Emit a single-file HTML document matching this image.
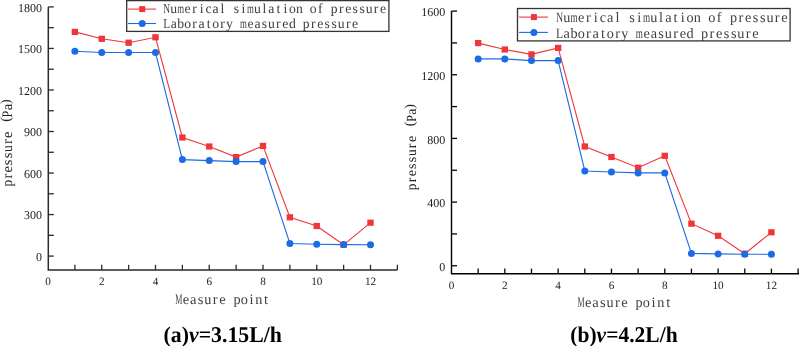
<!DOCTYPE html>
<html><head><meta charset="utf-8"><style>
html,body{margin:0;padding:0;background:#fff;}
body{width:799px;height:346px;overflow:hidden;}
svg{display:block;will-change:transform;}
text{font-family:"Liberation Serif",serif;text-rendering:geometricPrecision;}
.tk{fill:#222;}
.cap{font-weight:bold;font-size:22.5px;fill:#000;}
.it{font-style:italic;font-weight:bold;}
</style></head><body>
<svg width="799" height="346" viewBox="0 0 799 346">
<rect width="799" height="346" fill="#fff"/>
<path d="M48.3 6.9V270.0H397.38" fill="none" stroke="#2a2a2a" stroke-width="1.5"/>
<path d="M48.3 256.10h5.5" stroke="#2a2a2a" stroke-width="1.3"/>
<path d="M48.3 214.57h5.5" stroke="#2a2a2a" stroke-width="1.3"/>
<path d="M48.3 173.04h5.5" stroke="#2a2a2a" stroke-width="1.3"/>
<path d="M48.3 131.50h5.5" stroke="#2a2a2a" stroke-width="1.3"/>
<path d="M48.3 89.97h5.5" stroke="#2a2a2a" stroke-width="1.3"/>
<path d="M48.3 48.44h5.5" stroke="#2a2a2a" stroke-width="1.3"/>
<path d="M48.3 6.91h5.5" stroke="#2a2a2a" stroke-width="1.3"/>
<path d="M48.3 235.33h5.5" stroke="#2a2a2a" stroke-width="1.3"/>
<path d="M48.3 193.80h5.5" stroke="#2a2a2a" stroke-width="1.3"/>
<path d="M48.3 152.27h5.5" stroke="#2a2a2a" stroke-width="1.3"/>
<path d="M48.3 110.74h5.5" stroke="#2a2a2a" stroke-width="1.3"/>
<path d="M48.3 69.21h5.5" stroke="#2a2a2a" stroke-width="1.3"/>
<path d="M48.3 27.67h5.5" stroke="#2a2a2a" stroke-width="1.3"/>
<path d="M74.88 270.0v-5.2" stroke="#2a2a2a" stroke-width="1.3"/>
<path d="M101.75 270.0v-5.2" stroke="#2a2a2a" stroke-width="1.3"/>
<path d="M128.62 270.0v-5.2" stroke="#2a2a2a" stroke-width="1.3"/>
<path d="M155.50 270.0v-5.2" stroke="#2a2a2a" stroke-width="1.3"/>
<path d="M182.38 270.0v-5.2" stroke="#2a2a2a" stroke-width="1.3"/>
<path d="M209.25 270.0v-5.2" stroke="#2a2a2a" stroke-width="1.3"/>
<path d="M236.12 270.0v-5.2" stroke="#2a2a2a" stroke-width="1.3"/>
<path d="M263.00 270.0v-5.2" stroke="#2a2a2a" stroke-width="1.3"/>
<path d="M289.88 270.0v-5.2" stroke="#2a2a2a" stroke-width="1.3"/>
<path d="M316.75 270.0v-5.2" stroke="#2a2a2a" stroke-width="1.3"/>
<path d="M343.62 270.0v-5.2" stroke="#2a2a2a" stroke-width="1.3"/>
<path d="M370.50 270.0v-5.2" stroke="#2a2a2a" stroke-width="1.3"/>
<path d="M397.38 270.0v-5.2" stroke="#2a2a2a" stroke-width="1.3"/>
<text x="42.0" y="260.70" text-anchor="end" class="tk" style="font-size:12px">0</text>
<text x="42.0" y="219.17" text-anchor="end" class="tk" style="font-size:12px">300</text>
<text x="42.0" y="177.64" text-anchor="end" class="tk" style="font-size:12px">600</text>
<text x="42.0" y="136.10" text-anchor="end" class="tk" style="font-size:12px">900</text>
<text x="42.0" y="94.57" text-anchor="end" class="tk" style="font-size:12px">1200</text>
<text x="42.0" y="53.04" text-anchor="end" class="tk" style="font-size:12px">1500</text>
<text x="42.0" y="11.51" text-anchor="end" class="tk" style="font-size:12px">1800</text>
<text x="48.00" y="285.0" text-anchor="middle" class="tk" style="font-size:11.2px">0</text>
<text x="101.75" y="285.0" text-anchor="middle" class="tk" style="font-size:11.2px">2</text>
<text x="155.50" y="285.0" text-anchor="middle" class="tk" style="font-size:11.2px">4</text>
<text x="209.25" y="285.0" text-anchor="middle" class="tk" style="font-size:11.2px">6</text>
<text x="263.00" y="285.0" text-anchor="middle" class="tk" style="font-size:11.2px">8</text>
<text x="316.75" y="285.0" text-anchor="middle" class="tk" style="font-size:11.2px">10</text>
<text x="370.50" y="285.0" text-anchor="middle" class="tk" style="font-size:11.2px">12</text>
<polyline points="74.88,31.9 101.75,38.8 128.62,42.7 155.5,37.3 182.38,137.5 209.25,146.5 236.12,157.1 263.0,145.9 289.88,217.3 316.75,226.0 343.62,244.8 370.5,222.7" fill="none" stroke="#ef363a" stroke-width="1.1"/>
<rect x="71.68" y="28.80" width="6.4" height="6.2" fill="#ef363a"/>
<rect x="98.55" y="35.70" width="6.4" height="6.2" fill="#ef363a"/>
<rect x="125.42" y="39.60" width="6.4" height="6.2" fill="#ef363a"/>
<rect x="152.30" y="34.20" width="6.4" height="6.2" fill="#ef363a"/>
<rect x="179.18" y="134.40" width="6.4" height="6.2" fill="#ef363a"/>
<rect x="206.05" y="143.40" width="6.4" height="6.2" fill="#ef363a"/>
<rect x="232.92" y="154.00" width="6.4" height="6.2" fill="#ef363a"/>
<rect x="259.80" y="142.80" width="6.4" height="6.2" fill="#ef363a"/>
<rect x="286.68" y="214.20" width="6.4" height="6.2" fill="#ef363a"/>
<rect x="313.55" y="222.90" width="6.4" height="6.2" fill="#ef363a"/>
<rect x="340.42" y="241.70" width="6.4" height="6.2" fill="#ef363a"/>
<rect x="367.30" y="219.60" width="6.4" height="6.2" fill="#ef363a"/>
<polyline points="74.88,51.2 101.75,52.5 128.62,52.5 155.5,52.5 182.38,159.6 209.25,160.6 236.12,161.6 263.0,161.6 289.88,243.5 316.75,244.2 343.62,244.6 370.5,244.8" fill="none" stroke="#1b6be5" stroke-width="1.1"/>
<circle cx="74.88" cy="51.2" r="3.5" fill="#1b6be5"/>
<circle cx="101.75" cy="52.5" r="3.5" fill="#1b6be5"/>
<circle cx="128.62" cy="52.5" r="3.5" fill="#1b6be5"/>
<circle cx="155.5" cy="52.5" r="3.5" fill="#1b6be5"/>
<circle cx="182.38" cy="159.6" r="3.5" fill="#1b6be5"/>
<circle cx="209.25" cy="160.6" r="3.5" fill="#1b6be5"/>
<circle cx="236.12" cy="161.6" r="3.5" fill="#1b6be5"/>
<circle cx="263.0" cy="161.6" r="3.5" fill="#1b6be5"/>
<circle cx="289.88" cy="243.5" r="3.5" fill="#1b6be5"/>
<circle cx="316.75" cy="244.2" r="3.5" fill="#1b6be5"/>
<circle cx="343.62" cy="244.6" r="3.5" fill="#1b6be5"/>
<circle cx="370.5" cy="244.8" r="3.5" fill="#1b6be5"/>
<rect x="126.7" y="0.6" width="262.2" height="30.8" fill="#fff" stroke="#333" stroke-width="1.3"/>
<path d="M128 9.1H156" stroke="#ef363a" stroke-width="1.1"/>
<rect x="139.2" y="6.1" width="6" height="6" fill="#ef363a"/>
<path d="M128 23.5H156" stroke="#1b6be5" stroke-width="1.1"/>
<circle cx="142.2" cy="23.5" r="3.5" fill="#1b6be5"/>
<g class="mn" fill="#404040" transform="translate(163.20 13.30)"><text transform="translate(3.49 0.00) scale(0.691 1)" text-anchor="middle" style="font-size:13.7px">N</text>
<text transform="translate(10.47 0.00) scale(0.999 1)" text-anchor="middle" style="font-size:13.7px">u</text>
<text transform="translate(17.45 0.00) scale(0.642 1)" text-anchor="middle" style="font-size:13.7px">m</text>
<text transform="translate(24.43 0.00)" text-anchor="middle" style="font-size:13.7px">e</text>
<text transform="translate(31.41 0.00)" text-anchor="middle" style="font-size:13.7px">r</text>
<text transform="translate(38.39 0.00)" text-anchor="middle" style="font-size:13.7px">i</text>
<text transform="translate(45.37 0.00)" text-anchor="middle" style="font-size:13.7px">c</text>
<text transform="translate(52.35 0.00)" text-anchor="middle" style="font-size:13.7px">a</text>
<text transform="translate(59.33 0.00)" text-anchor="middle" style="font-size:13.7px">l</text>
<text transform="translate(73.29 0.00)" text-anchor="middle" style="font-size:13.7px">s</text>
<text transform="translate(80.27 0.00)" text-anchor="middle" style="font-size:13.7px">i</text>
<text transform="translate(87.25 0.00) scale(0.642 1)" text-anchor="middle" style="font-size:13.7px">m</text>
<text transform="translate(94.23 0.00) scale(0.999 1)" text-anchor="middle" style="font-size:13.7px">u</text>
<text transform="translate(101.21 0.00)" text-anchor="middle" style="font-size:13.7px">l</text>
<text transform="translate(108.19 0.00)" text-anchor="middle" style="font-size:13.7px">a</text>
<text transform="translate(115.17 0.00)" text-anchor="middle" style="font-size:13.7px">t</text>
<text transform="translate(122.15 0.00)" text-anchor="middle" style="font-size:13.7px">i</text>
<text transform="translate(129.13 0.00) scale(0.999 1)" text-anchor="middle" style="font-size:13.7px">o</text>
<text transform="translate(136.11 0.00) scale(0.999 1)" text-anchor="middle" style="font-size:13.7px">n</text>
<text transform="translate(150.07 0.00) scale(0.999 1)" text-anchor="middle" style="font-size:13.7px">o</text>
<text transform="translate(157.05 0.00)" text-anchor="middle" style="font-size:13.7px">f</text>
<text transform="translate(171.01 0.00) scale(0.999 1)" text-anchor="middle" style="font-size:13.7px">p</text>
<text transform="translate(177.99 0.00)" text-anchor="middle" style="font-size:13.7px">r</text>
<text transform="translate(184.97 0.00)" text-anchor="middle" style="font-size:13.7px">e</text>
<text transform="translate(191.95 0.00)" text-anchor="middle" style="font-size:13.7px">s</text>
<text transform="translate(198.93 0.00)" text-anchor="middle" style="font-size:13.7px">s</text>
<text transform="translate(205.91 0.00) scale(0.999 1)" text-anchor="middle" style="font-size:13.7px">u</text>
<text transform="translate(212.89 0.00)" text-anchor="middle" style="font-size:13.7px">r</text>
<text transform="translate(219.87 0.00)" text-anchor="middle" style="font-size:13.7px">e</text></g>
<g class="mn" fill="#404040" transform="translate(163.20 27.60)"><text transform="translate(3.49 0.00) scale(0.817 1)" text-anchor="middle" style="font-size:13.7px">L</text>
<text transform="translate(10.47 0.00)" text-anchor="middle" style="font-size:13.7px">a</text>
<text transform="translate(17.45 0.00) scale(0.999 1)" text-anchor="middle" style="font-size:13.7px">b</text>
<text transform="translate(24.43 0.00) scale(0.999 1)" text-anchor="middle" style="font-size:13.7px">o</text>
<text transform="translate(31.41 0.00)" text-anchor="middle" style="font-size:13.7px">r</text>
<text transform="translate(38.39 0.00)" text-anchor="middle" style="font-size:13.7px">a</text>
<text transform="translate(45.37 0.00)" text-anchor="middle" style="font-size:13.7px">t</text>
<text transform="translate(52.35 0.00) scale(0.999 1)" text-anchor="middle" style="font-size:13.7px">o</text>
<text transform="translate(59.33 0.00)" text-anchor="middle" style="font-size:13.7px">r</text>
<text transform="translate(66.31 0.00) scale(0.999 1)" text-anchor="middle" style="font-size:13.7px">y</text>
<text transform="translate(80.27 0.00) scale(0.642 1)" text-anchor="middle" style="font-size:13.7px">m</text>
<text transform="translate(87.25 0.00)" text-anchor="middle" style="font-size:13.7px">e</text>
<text transform="translate(94.23 0.00)" text-anchor="middle" style="font-size:13.7px">a</text>
<text transform="translate(101.21 0.00)" text-anchor="middle" style="font-size:13.7px">s</text>
<text transform="translate(108.19 0.00) scale(0.999 1)" text-anchor="middle" style="font-size:13.7px">u</text>
<text transform="translate(115.17 0.00)" text-anchor="middle" style="font-size:13.7px">r</text>
<text transform="translate(122.15 0.00)" text-anchor="middle" style="font-size:13.7px">e</text>
<text transform="translate(129.13 0.00) scale(0.999 1)" text-anchor="middle" style="font-size:13.7px">d</text>
<text transform="translate(143.09 0.00) scale(0.999 1)" text-anchor="middle" style="font-size:13.7px">p</text>
<text transform="translate(150.07 0.00)" text-anchor="middle" style="font-size:13.7px">r</text>
<text transform="translate(157.05 0.00)" text-anchor="middle" style="font-size:13.7px">e</text>
<text transform="translate(164.03 0.00)" text-anchor="middle" style="font-size:13.7px">s</text>
<text transform="translate(171.01 0.00)" text-anchor="middle" style="font-size:13.7px">s</text>
<text transform="translate(177.99 0.00) scale(0.999 1)" text-anchor="middle" style="font-size:13.7px">u</text>
<text transform="translate(184.97 0.00)" text-anchor="middle" style="font-size:13.7px">r</text>
<text transform="translate(191.95 0.00)" text-anchor="middle" style="font-size:13.7px">e</text></g>
<path d="M451.5 11.1V273.8H799.50" fill="none" stroke="#000" stroke-width="1.4"/>
<path d="M451.5 265.75h5.5" stroke="#000" stroke-width="1.3"/>
<path d="M451.5 202.09h5.5" stroke="#000" stroke-width="1.3"/>
<path d="M451.5 138.42h5.5" stroke="#000" stroke-width="1.3"/>
<path d="M451.5 74.76h5.5" stroke="#000" stroke-width="1.3"/>
<path d="M451.5 11.09h5.5" stroke="#000" stroke-width="1.3"/>
<path d="M451.5 233.92h5.5" stroke="#000" stroke-width="1.3"/>
<path d="M451.5 170.25h5.5" stroke="#000" stroke-width="1.3"/>
<path d="M451.5 106.59h5.5" stroke="#000" stroke-width="1.3"/>
<path d="M451.5 42.93h5.5" stroke="#000" stroke-width="1.3"/>
<path d="M478.16 273.8v-5.2" stroke="#000" stroke-width="1.3"/>
<path d="M504.82 273.8v-5.2" stroke="#000" stroke-width="1.3"/>
<path d="M531.48 273.8v-5.2" stroke="#000" stroke-width="1.3"/>
<path d="M558.14 273.8v-5.2" stroke="#000" stroke-width="1.3"/>
<path d="M584.80 273.8v-5.2" stroke="#000" stroke-width="1.3"/>
<path d="M611.46 273.8v-5.2" stroke="#000" stroke-width="1.3"/>
<path d="M638.12 273.8v-5.2" stroke="#000" stroke-width="1.3"/>
<path d="M664.78 273.8v-5.2" stroke="#000" stroke-width="1.3"/>
<path d="M691.44 273.8v-5.2" stroke="#000" stroke-width="1.3"/>
<path d="M718.10 273.8v-5.2" stroke="#000" stroke-width="1.3"/>
<path d="M744.76 273.8v-5.2" stroke="#000" stroke-width="1.3"/>
<path d="M771.42 273.8v-5.2" stroke="#000" stroke-width="1.3"/>
<path d="M798.08 273.8v-5.2" stroke="#000" stroke-width="1.3"/>
<text x="445.2" y="271.05" text-anchor="end" class="tk" style="font-size:12px">0</text>
<text x="445.2" y="207.39" text-anchor="end" class="tk" style="font-size:12px">400</text>
<text x="445.2" y="143.72" text-anchor="end" class="tk" style="font-size:12px">800</text>
<text x="445.2" y="80.06" text-anchor="end" class="tk" style="font-size:12px">1200</text>
<text x="445.2" y="16.39" text-anchor="end" class="tk" style="font-size:12px">1600</text>
<text x="451.50" y="288.7" text-anchor="middle" class="tk" style="font-size:11.2px">0</text>
<text x="504.82" y="288.7" text-anchor="middle" class="tk" style="font-size:11.2px">2</text>
<text x="558.14" y="288.7" text-anchor="middle" class="tk" style="font-size:11.2px">4</text>
<text x="611.46" y="288.7" text-anchor="middle" class="tk" style="font-size:11.2px">6</text>
<text x="664.78" y="288.7" text-anchor="middle" class="tk" style="font-size:11.2px">8</text>
<text x="718.10" y="288.7" text-anchor="middle" class="tk" style="font-size:11.2px">10</text>
<text x="771.42" y="288.7" text-anchor="middle" class="tk" style="font-size:11.2px">12</text>
<polyline points="478.16,43.1 504.82,49.5 531.48,54.4 558.14,47.9 584.8,146.5 611.46,157.0 638.12,167.7 664.78,155.8 691.44,223.7 718.1,235.8 744.76,253.7 771.42,232.3" fill="none" stroke="#ef363a" stroke-width="1.1"/>
<rect x="474.96" y="40.00" width="6.4" height="6.2" fill="#ef363a"/>
<rect x="501.62" y="46.40" width="6.4" height="6.2" fill="#ef363a"/>
<rect x="528.28" y="51.30" width="6.4" height="6.2" fill="#ef363a"/>
<rect x="554.94" y="44.80" width="6.4" height="6.2" fill="#ef363a"/>
<rect x="581.60" y="143.40" width="6.4" height="6.2" fill="#ef363a"/>
<rect x="608.26" y="153.90" width="6.4" height="6.2" fill="#ef363a"/>
<rect x="634.92" y="164.60" width="6.4" height="6.2" fill="#ef363a"/>
<rect x="661.58" y="152.70" width="6.4" height="6.2" fill="#ef363a"/>
<rect x="688.24" y="220.60" width="6.4" height="6.2" fill="#ef363a"/>
<rect x="714.90" y="232.70" width="6.4" height="6.2" fill="#ef363a"/>
<rect x="741.56" y="250.60" width="6.4" height="6.2" fill="#ef363a"/>
<rect x="768.22" y="229.20" width="6.4" height="6.2" fill="#ef363a"/>
<polyline points="478.16,58.9 504.82,58.9 531.48,60.6 558.14,60.6 584.8,171.0 611.46,172.0 638.12,172.9 664.78,172.9 691.44,253.4 718.1,253.9 744.76,254.3 771.42,254.3" fill="none" stroke="#1b6be5" stroke-width="1.1"/>
<circle cx="478.16" cy="58.9" r="3.5" fill="#1b6be5"/>
<circle cx="504.82" cy="58.9" r="3.5" fill="#1b6be5"/>
<circle cx="531.48" cy="60.6" r="3.5" fill="#1b6be5"/>
<circle cx="558.14" cy="60.6" r="3.5" fill="#1b6be5"/>
<circle cx="584.8" cy="171.0" r="3.5" fill="#1b6be5"/>
<circle cx="611.46" cy="172.0" r="3.5" fill="#1b6be5"/>
<circle cx="638.12" cy="172.9" r="3.5" fill="#1b6be5"/>
<circle cx="664.78" cy="172.9" r="3.5" fill="#1b6be5"/>
<circle cx="691.44" cy="253.4" r="3.5" fill="#1b6be5"/>
<circle cx="718.1" cy="253.9" r="3.5" fill="#1b6be5"/>
<circle cx="744.76" cy="254.3" r="3.5" fill="#1b6be5"/>
<circle cx="771.42" cy="254.3" r="3.5" fill="#1b6be5"/>
<rect x="517.5" y="8.5" width="272.6" height="32.4" fill="#fff" stroke="#333" stroke-width="1.3"/>
<path d="M519 17.1H548" stroke="#ef363a" stroke-width="1.1"/>
<rect x="530.9" y="14.100000000000001" width="6" height="6" fill="#ef363a"/>
<path d="M519 32.4H548" stroke="#1b6be5" stroke-width="1.1"/>
<circle cx="533.9" cy="32.4" r="3.5" fill="#1b6be5"/>
<g class="mn" fill="#404040" transform="translate(555.80 22.40)"><text transform="translate(3.63 0.00) scale(0.689 1)" text-anchor="middle" style="font-size:14.3px">N</text>
<text transform="translate(10.89 0.00) scale(0.995 1)" text-anchor="middle" style="font-size:14.3px">u</text>
<text transform="translate(18.15 0.00) scale(0.640 1)" text-anchor="middle" style="font-size:14.3px">m</text>
<text transform="translate(25.41 0.00)" text-anchor="middle" style="font-size:14.3px">e</text>
<text transform="translate(32.67 0.00)" text-anchor="middle" style="font-size:14.3px">r</text>
<text transform="translate(39.93 0.00)" text-anchor="middle" style="font-size:14.3px">i</text>
<text transform="translate(47.19 0.00)" text-anchor="middle" style="font-size:14.3px">c</text>
<text transform="translate(54.45 0.00)" text-anchor="middle" style="font-size:14.3px">a</text>
<text transform="translate(61.71 0.00)" text-anchor="middle" style="font-size:14.3px">l</text>
<text transform="translate(76.23 0.00)" text-anchor="middle" style="font-size:14.3px">s</text>
<text transform="translate(83.49 0.00)" text-anchor="middle" style="font-size:14.3px">i</text>
<text transform="translate(90.75 0.00) scale(0.640 1)" text-anchor="middle" style="font-size:14.3px">m</text>
<text transform="translate(98.01 0.00) scale(0.995 1)" text-anchor="middle" style="font-size:14.3px">u</text>
<text transform="translate(105.27 0.00)" text-anchor="middle" style="font-size:14.3px">l</text>
<text transform="translate(112.53 0.00)" text-anchor="middle" style="font-size:14.3px">a</text>
<text transform="translate(119.79 0.00)" text-anchor="middle" style="font-size:14.3px">t</text>
<text transform="translate(127.05 0.00)" text-anchor="middle" style="font-size:14.3px">i</text>
<text transform="translate(134.31 0.00) scale(0.995 1)" text-anchor="middle" style="font-size:14.3px">o</text>
<text transform="translate(141.57 0.00) scale(0.995 1)" text-anchor="middle" style="font-size:14.3px">n</text>
<text transform="translate(156.09 0.00) scale(0.995 1)" text-anchor="middle" style="font-size:14.3px">o</text>
<text transform="translate(163.35 0.00)" text-anchor="middle" style="font-size:14.3px">f</text>
<text transform="translate(177.87 0.00) scale(0.995 1)" text-anchor="middle" style="font-size:14.3px">p</text>
<text transform="translate(185.13 0.00)" text-anchor="middle" style="font-size:14.3px">r</text>
<text transform="translate(192.39 0.00)" text-anchor="middle" style="font-size:14.3px">e</text>
<text transform="translate(199.65 0.00)" text-anchor="middle" style="font-size:14.3px">s</text>
<text transform="translate(206.91 0.00)" text-anchor="middle" style="font-size:14.3px">s</text>
<text transform="translate(214.17 0.00) scale(0.995 1)" text-anchor="middle" style="font-size:14.3px">u</text>
<text transform="translate(221.43 0.00)" text-anchor="middle" style="font-size:14.3px">r</text>
<text transform="translate(228.69 0.00)" text-anchor="middle" style="font-size:14.3px">e</text></g>
<g class="mn" fill="#404040" transform="translate(555.80 38.20)"><text transform="translate(3.63 0.00) scale(0.815 1)" text-anchor="middle" style="font-size:14.3px">L</text>
<text transform="translate(10.89 0.00)" text-anchor="middle" style="font-size:14.3px">a</text>
<text transform="translate(18.15 0.00) scale(0.995 1)" text-anchor="middle" style="font-size:14.3px">b</text>
<text transform="translate(25.41 0.00) scale(0.995 1)" text-anchor="middle" style="font-size:14.3px">o</text>
<text transform="translate(32.67 0.00)" text-anchor="middle" style="font-size:14.3px">r</text>
<text transform="translate(39.93 0.00)" text-anchor="middle" style="font-size:14.3px">a</text>
<text transform="translate(47.19 0.00)" text-anchor="middle" style="font-size:14.3px">t</text>
<text transform="translate(54.45 0.00) scale(0.995 1)" text-anchor="middle" style="font-size:14.3px">o</text>
<text transform="translate(61.71 0.00)" text-anchor="middle" style="font-size:14.3px">r</text>
<text transform="translate(68.97 0.00) scale(0.995 1)" text-anchor="middle" style="font-size:14.3px">y</text>
<text transform="translate(83.49 0.00) scale(0.640 1)" text-anchor="middle" style="font-size:14.3px">m</text>
<text transform="translate(90.75 0.00)" text-anchor="middle" style="font-size:14.3px">e</text>
<text transform="translate(98.01 0.00)" text-anchor="middle" style="font-size:14.3px">a</text>
<text transform="translate(105.27 0.00)" text-anchor="middle" style="font-size:14.3px">s</text>
<text transform="translate(112.53 0.00) scale(0.995 1)" text-anchor="middle" style="font-size:14.3px">u</text>
<text transform="translate(119.79 0.00)" text-anchor="middle" style="font-size:14.3px">r</text>
<text transform="translate(127.05 0.00)" text-anchor="middle" style="font-size:14.3px">e</text>
<text transform="translate(134.31 0.00) scale(0.995 1)" text-anchor="middle" style="font-size:14.3px">d</text>
<text transform="translate(148.83 0.00) scale(0.995 1)" text-anchor="middle" style="font-size:14.3px">p</text>
<text transform="translate(156.09 0.00)" text-anchor="middle" style="font-size:14.3px">r</text>
<text transform="translate(163.35 0.00)" text-anchor="middle" style="font-size:14.3px">e</text>
<text transform="translate(170.61 0.00)" text-anchor="middle" style="font-size:14.3px">s</text>
<text transform="translate(177.87 0.00)" text-anchor="middle" style="font-size:14.3px">s</text>
<text transform="translate(185.13 0.00) scale(0.995 1)" text-anchor="middle" style="font-size:14.3px">u</text>
<text transform="translate(192.39 0.00)" text-anchor="middle" style="font-size:14.3px">r</text>
<text transform="translate(199.65 0.00)" text-anchor="middle" style="font-size:14.3px">e</text></g>
<g class="mn" fill="#222" transform="translate(12.20 186.45) rotate(-90)"><text transform="translate(3.45 0.00) scale(0.933 1)" text-anchor="middle" style="font-size:14.5px">p</text>
<text transform="translate(10.35 0.00)" text-anchor="middle" style="font-size:14.5px">r</text>
<text transform="translate(17.25 0.00)" text-anchor="middle" style="font-size:14.5px">e</text>
<text transform="translate(24.15 0.00)" text-anchor="middle" style="font-size:14.5px">s</text>
<text transform="translate(31.05 0.00)" text-anchor="middle" style="font-size:14.5px">s</text>
<text transform="translate(37.95 0.00) scale(0.933 1)" text-anchor="middle" style="font-size:14.5px">u</text>
<text transform="translate(44.85 0.00)" text-anchor="middle" style="font-size:14.5px">r</text>
<text transform="translate(51.75 0.00)" text-anchor="middle" style="font-size:14.5px">e</text>
<text transform="translate(67.07 -1.80)" text-anchor="middle" style="font-size:14px">(</text>
<text transform="translate(72.45 0.00) scale(0.839 1)" text-anchor="middle" style="font-size:14.5px">P</text>
<text transform="translate(79.35 0.00)" text-anchor="middle" style="font-size:14.5px">a</text>
<text transform="translate(84.73 -1.80)" text-anchor="middle" style="font-size:14px">)</text></g>
<g class="mn" fill="#222" transform="translate(415.60 190.20) rotate(-90)"><text transform="translate(3.42 0.00) scale(0.956 1)" text-anchor="middle" style="font-size:14px">p</text>
<text transform="translate(10.25 0.00)" text-anchor="middle" style="font-size:14px">r</text>
<text transform="translate(17.07 0.00)" text-anchor="middle" style="font-size:14px">e</text>
<text transform="translate(23.91 0.00)" text-anchor="middle" style="font-size:14px">s</text>
<text transform="translate(30.73 0.00)" text-anchor="middle" style="font-size:14px">s</text>
<text transform="translate(37.56 0.00) scale(0.956 1)" text-anchor="middle" style="font-size:14px">u</text>
<text transform="translate(44.40 0.00)" text-anchor="middle" style="font-size:14px">r</text>
<text transform="translate(51.23 0.00)" text-anchor="middle" style="font-size:14px">e</text>
<text transform="translate(66.39 -1.80)" text-anchor="middle" style="font-size:14px">(</text>
<text transform="translate(71.72 0.00) scale(0.860 1)" text-anchor="middle" style="font-size:14px">P</text>
<text transform="translate(78.55 0.00)" text-anchor="middle" style="font-size:14px">a</text>
<text transform="translate(83.87 -1.80)" text-anchor="middle" style="font-size:14px">)</text></g>
<g class="mn" fill="#404040" transform="translate(175.10 303.60)"><text transform="translate(3.64 0.00) scale(0.553 1)" text-anchor="middle" style="font-size:14.5px">M</text>
<text transform="translate(10.92 0.00)" text-anchor="middle" style="font-size:14.5px">e</text>
<text transform="translate(18.20 0.00)" text-anchor="middle" style="font-size:14.5px">a</text>
<text transform="translate(25.48 0.00)" text-anchor="middle" style="font-size:14.5px">s</text>
<text transform="translate(32.76 0.00) scale(0.984 1)" text-anchor="middle" style="font-size:14.5px">u</text>
<text transform="translate(40.04 0.00)" text-anchor="middle" style="font-size:14.5px">r</text>
<text transform="translate(47.32 0.00)" text-anchor="middle" style="font-size:14.5px">e</text>
<text transform="translate(61.88 0.00) scale(0.984 1)" text-anchor="middle" style="font-size:14.5px">p</text>
<text transform="translate(69.16 0.00) scale(0.984 1)" text-anchor="middle" style="font-size:14.5px">o</text>
<text transform="translate(76.44 0.00)" text-anchor="middle" style="font-size:14.5px">i</text>
<text transform="translate(83.72 0.00) scale(0.984 1)" text-anchor="middle" style="font-size:14.5px">n</text>
<text transform="translate(91.00 0.00)" text-anchor="middle" style="font-size:14.5px">t</text></g>
<g class="mn" fill="#404040" transform="translate(577.40 306.80)"><text transform="translate(3.63 0.00) scale(0.552 1)" text-anchor="middle" style="font-size:14.5px">M</text>
<text transform="translate(10.89 0.00)" text-anchor="middle" style="font-size:14.5px">e</text>
<text transform="translate(18.15 0.00)" text-anchor="middle" style="font-size:14.5px">a</text>
<text transform="translate(25.41 0.00)" text-anchor="middle" style="font-size:14.5px">s</text>
<text transform="translate(32.67 0.00) scale(0.981 1)" text-anchor="middle" style="font-size:14.5px">u</text>
<text transform="translate(39.93 0.00)" text-anchor="middle" style="font-size:14.5px">r</text>
<text transform="translate(47.19 0.00)" text-anchor="middle" style="font-size:14.5px">e</text>
<text transform="translate(61.71 0.00) scale(0.981 1)" text-anchor="middle" style="font-size:14.5px">p</text>
<text transform="translate(68.97 0.00) scale(0.981 1)" text-anchor="middle" style="font-size:14.5px">o</text>
<text transform="translate(76.23 0.00)" text-anchor="middle" style="font-size:14.5px">i</text>
<text transform="translate(83.49 0.00) scale(0.981 1)" text-anchor="middle" style="font-size:14.5px">n</text>
<text transform="translate(90.75 0.00)" text-anchor="middle" style="font-size:14.5px">t</text></g>
<text class="cap" x="163.6" y="341.7" textLength="118.3" lengthAdjust="spacingAndGlyphs">(a)<tspan class="it">v</tspan>=3.15L/h</text>
<text class="cap" x="570.3" y="341.7" textLength="107.3" lengthAdjust="spacingAndGlyphs">(b)<tspan class="it">v</tspan>=4.2L/h</text>
</svg>
</body></html>
